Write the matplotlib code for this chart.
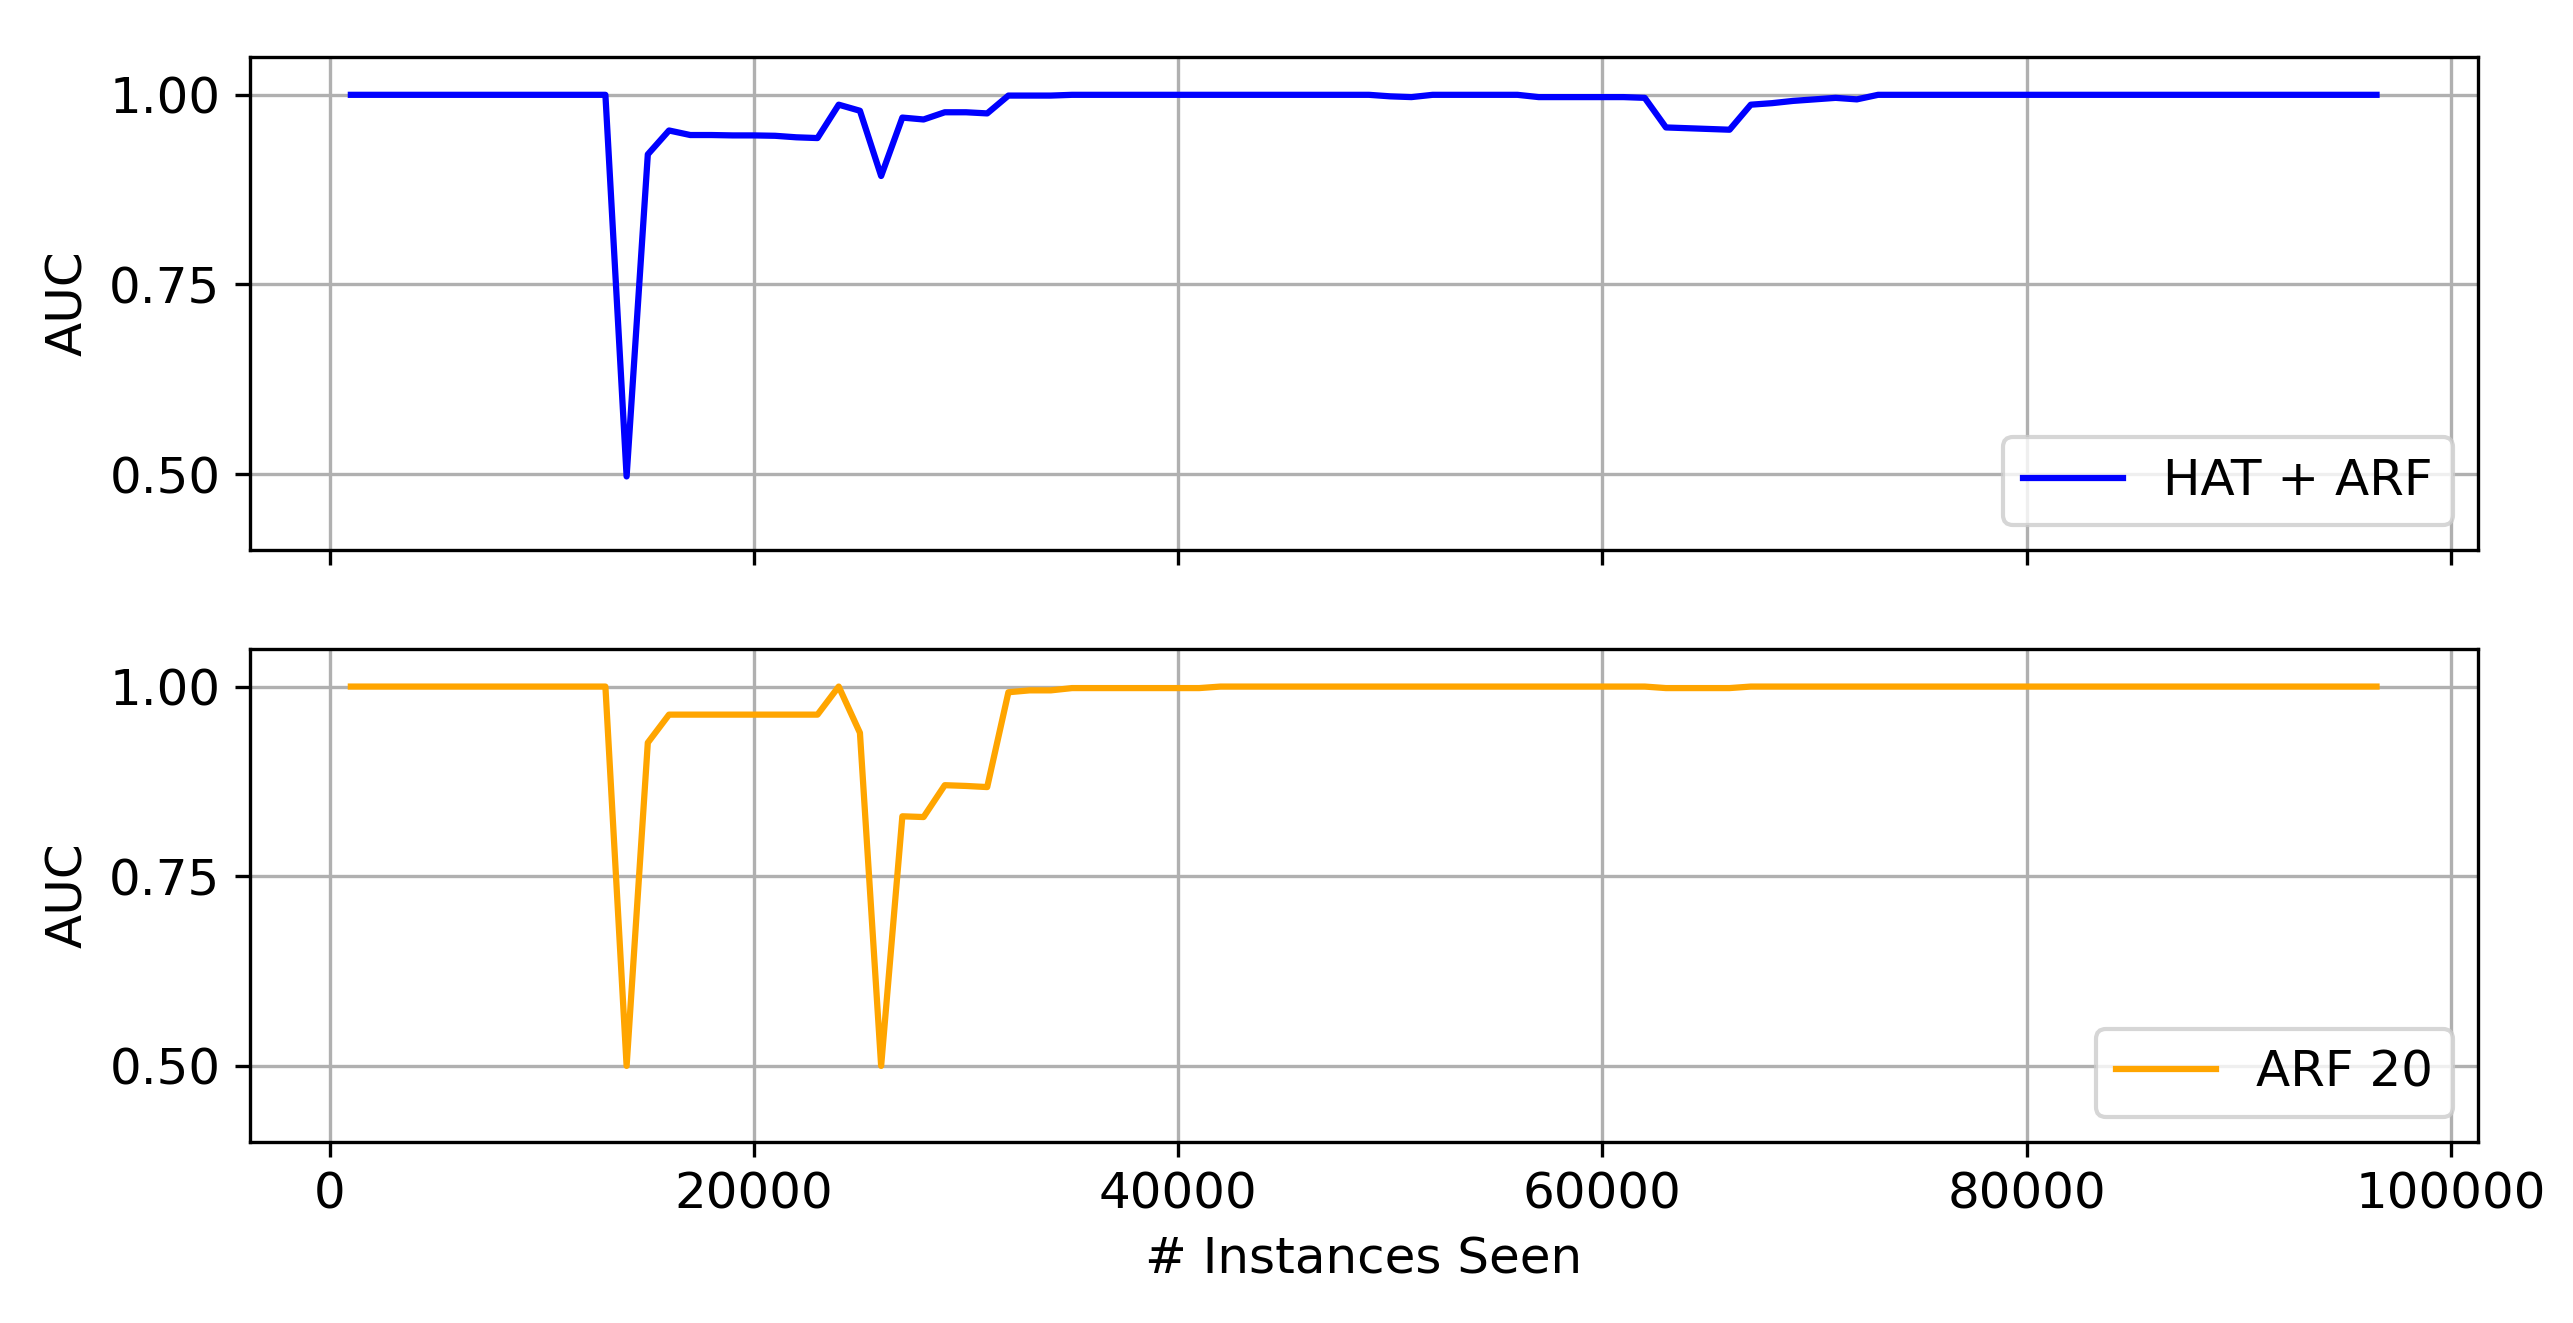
import matplotlib
matplotlib.use("Agg")
import matplotlib.pyplot as plt

# number of instances seen at each evaluation
instances = list(range(1000, 97000, 1000)) + [96500]

hat_arf_auc = (
    [1.0] * 13
    + [0.497, 0.9215, 0.953, 0.947, 0.947, 0.9465, 0.9465, 0.946, 0.944, 0.943,
       0.987, 0.979, 0.893, 0.970, 0.9675, 0.977, 0.977, 0.9755]
    + [0.999] * 3 + [1.0] * 15
    + [0.998, 0.997]
    + [1.0] * 5
    + [0.997] * 5
    + [0.996, 0.957, 0.956, 0.955, 0.954, 0.987, 0.989, 0.992, 0.994, 0.996, 0.994]
    + [1.0] * 25
)

arf20_auc = (
    [1.0] * 13
    + [0.5, 0.926, 0.963, 0.963, 0.963, 0.963, 0.963, 0.963, 0.963, 0.963,
       1.0, 0.939, 0.5, 0.829, 0.828, 0.870, 0.869, 0.8675,
       0.9925, 0.995, 0.995, 0.998, 0.998, 0.998, 0.998, 0.998, 0.998, 0.998]
    + [1.0] * 21
    + [0.998] * 4
    + [1.0] * 31
)

plt.rcParams["font.size"] = 12

fig, (ax1, ax2) = plt.subplots(2, 1, sharex=True, figsize=(2573 / 300, 1323 / 300))
fig.subplots_adjust(left=0.097, right=0.963, top=0.957, bottom=0.137, hspace=0.2)

ax1.plot(instances, hat_arf_auc, color="blue", label="HAT + ARF")
ax2.plot(instances, arf20_auc, color="orange", label="ARF 20")

for ax in (ax1, ax2):
    ax.set_ylim(0.4, 1.05)
    ax.set_yticks([0.5, 0.75, 1.0])
    ax.set_ylabel("AUC")
    ax.grid()
    ax.legend(loc="lower right")

ax2.set_xlabel("# Instances Seen")

fig.savefig("out.png", dpi=300)
